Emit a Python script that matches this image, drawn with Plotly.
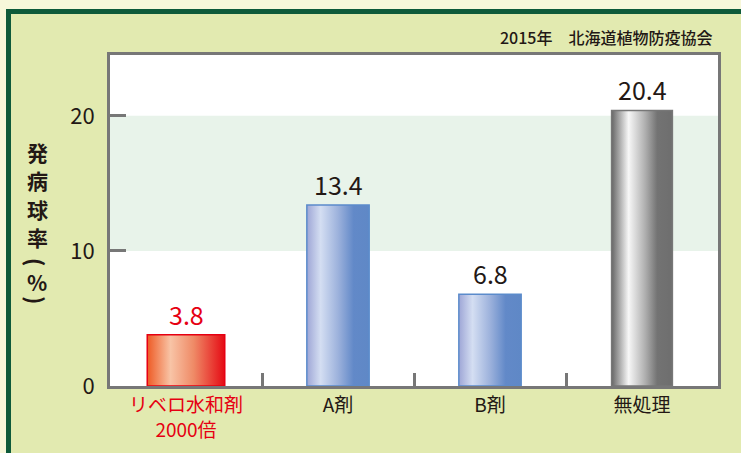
import plotly.graph_objects as go

categories = ["リベロ水和剤<br>2000倍", "A剤", "B剤", "無処理"]
values = [3.8, 13.4, 6.8, 20.4]
value_labels = ["3.8", "13.4", "6.8", "20.4"]
y_ticks = [0, 10, 20]
source_text = "2015年　北海道植物防疫協会"
y_title_chars = ["発", "病", "球", "率", "(", "%", ")"]

FONT = "Noto Sans CJK JP"
DARK = "#231815"
RED = "#e60012"

bar_widths = [0.51, 0.41, 0.41, 0.40]
red_grad = [[0, "#ee5a24"], [0.3, "#f8c4a6"], [0.6, "#ef8a66"], [1, "#e50a14"]]
blue_grad = [[0, "#9ea6d6"], [0.22, "#d4def2"], [0.5, "#9db2dc"], [0.75, "#6289c8"], [1, "#5f88c6"]]
gray_grad = [[0, "#666666"], [0.28, "#f7f7f7"], [0.55, "#b0b0b0"], [0.75, "#737373"], [1, "#6e6e6e"]]
gradients = [red_grad, blue_grad, blue_grad, gray_grad]
outline = ["#e60012", "#5b8bcb", "#5b8bcb", "#777777"]
label_colors = [RED, DARK, DARK, DARK]

fig = go.Figure()
annotations = []

for i, v in enumerate(values):
    w = bar_widths[i]
    fig.add_trace(go.Scatter(
        x=[i - w / 2, i - w / 2, i + w / 2, i + w / 2, i - w / 2],
        y=[0, v, v, 0, 0],
        mode="lines",
        fill="toself",
        fillgradient=dict(type="horizontal", colorscale=gradients[i]),
        line=dict(color=outline[i], width=1.5),
        hoverinfo="skip",
        showlegend=False,
    ))
    annotations.append(dict(
        x=i, y=v, xref="x", yref="y", text=value_labels[i], showarrow=False,
        yanchor="bottom", yshift=1,
        font=dict(family=FONT, size=25, color=label_colors[i]),
    ))

ticktext = []
for i, c in enumerate(categories):
    if i == 0:
        ticktext.append(f"<span style='color:{RED}'>{c}</span>")
    else:
        ticktext.append(c)

W, H = 741, 453
ML, MR, MT, MB = 110, 23, 55, 67
PW, PH = W - ML - MR, H - MT - MB

def px_x(p):
    return (p - ML) / PW

def px_y(p):
    return 1 - (p - MT) / PH

annotations.append(dict(
    xref="paper", yref="paper", x=px_x(714), y=px_y(37),
    xanchor="right", yanchor="middle", showarrow=False,
    text=source_text, font=dict(family=FONT, size=16, color=DARK, weight=500)))

# vertical y-axis title (stacked characters; parentheses rotated as in vertical writing)
title_centres = [151.5, 180, 208.5, 237, 262, 281.5, 300]
for ch, cy in zip(y_title_chars, title_centres):
    rotated = ch in "()"
    annotations.append(dict(
        xref="paper", yref="paper", x=px_x(37), y=px_y(cy),
        xanchor="center", yanchor="middle", showarrow=False, borderpad=0,
        textangle=90 if rotated else 0,
        text=ch, font=dict(family=FONT, size=22 if rotated else 21, color=DARK, weight="bold")))

fig.update_layout(
    width=W, height=H,
    margin=dict(l=ML, r=MR, t=MT, b=MB),
    paper_bgcolor="#f7f7da",
    plot_bgcolor="white",
    showlegend=False,
    font=dict(family=FONT, color=DARK),
    xaxis=dict(
        range=[-0.5, 3.5],
        tickvals=list(range(len(categories))),
        ticktext=ticktext,
        ticks="",
        showgrid=False, zeroline=False,
        showline=True, linecolor="#777777", linewidth=3, mirror=True,
        tickfont=dict(family=FONT, size=19, color=DARK),
        minor=dict(tickvals=[0.5, 1.5, 2.5], ticks="inside", ticklen=13,
                   tickwidth=3, tickcolor="#777777", showgrid=False),
        fixedrange=True,
    ),
    yaxis=dict(
        range=[0, 24.5],
        tickvals=y_ticks,
        ticks="inside", ticklen=16, tickwidth=3, tickcolor="#777777",
        showgrid=False, zeroline=False,
        showline=True, linecolor="#777777", linewidth=3, mirror=True,
        tickfont=dict(family=FONT, size=22, color=DARK),
        ticklabelstandoff=8,
        fixedrange=True,
    ),
    shapes=[
        dict(type="rect", xref="paper", yref="paper", layer="below",
             x0=px_x(8.5), x1=px_x(800), y0=px_y(520), y1=px_y(11.5),
             fillcolor="#e2eab0", line=dict(color="#0e5a3a", width=5)),
        dict(type="rect", xref="paper", yref="paper", layer="below",
             x0=0, x1=1, y0=0, y1=1,
             fillcolor="white", line=dict(width=0)),
        dict(type="rect", xref="paper", yref="y", layer="below",
             x0=0, x1=1, y0=10, y1=20,
             fillcolor="#e8f3ea", line=dict(width=0)),
    ],
    annotations=annotations,
)

fig.write_html("out.html", config={"displayModeBar": False},
               post_script="document.body.style.margin='0';")
